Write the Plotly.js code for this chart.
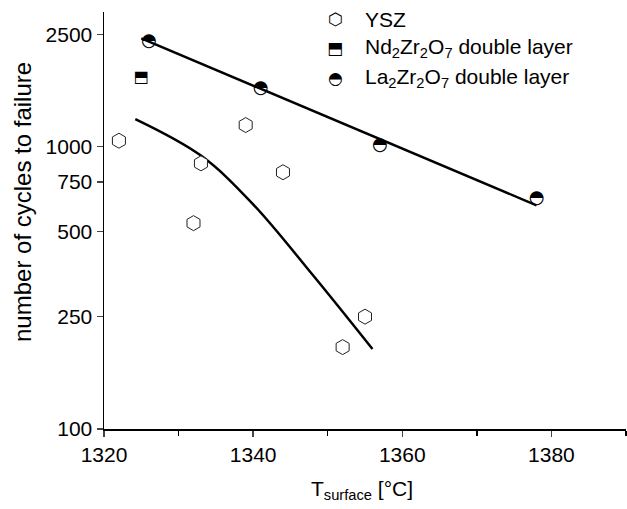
<!DOCTYPE html>
<html><head><meta charset="utf-8">
<script src="https://cdn.plot.ly/plotly-3.0.1.min.js"></script>
<style>body{margin:0;background:#fff}#chart{width:627px;height:509px}</style>
</head><body><div id="chart"></div>
<script>
// ---- data ----
const yszT = [1322, 1332, 1333, 1339, 1344, 1352, 1355];
const yszN = [1050, 536, 873, 1193, 812, 195, 250];
const ndT = [1325];
const ndN = [1750];
const laT = [1326, 1341, 1357, 1378];
const laN = [2350, 1610, 1006, 653];
const laFitT = [1325, 1378];
const laFitN = [2420, 620];
const yszFitT = [1324.2, 1333, 1340, 1348, 1356];
const yszFitN = [1253, 930, 625, 351, 192];
const xTicks = [1320, 1340, 1360, 1380];
const yTicks = [100, 250, 500, 750, 1000, 2500];
const yTickText = ['100', '250', '500', '750', '1000', '2500'];
const legendLabels = ['YSZ', 'Nd<sub>2</sub>Zr<sub>2</sub>O<sub>7</sub> double layer', 'La<sub>2</sub>Zr<sub>2</sub>O<sub>7</sub> double layer'];

const FONT = 'Liberation Sans, Arial, sans-serif';
const SYM = 'DejaVu Sans, sans-serif';

const traces = [
  {x: laFitT, y: laFitN, mode: 'lines', line: {color: '#000', width: 2.5}, hoverinfo: 'skip'},
  {x: yszFitT, y: yszFitN, mode: 'lines', line: {color: '#000', width: 2.5, shape: 'spline', smoothing: 1}, hoverinfo: 'skip'},
  {x: yszT, y: yszN, mode: 'markers', marker: {symbol: 'hexagon', size: 15, color: '#fff', line: {color: '#222', width: 1}}},
  {x: ndT, y: ndN, mode: 'text', text: ndT.map(() => '\u2B12'), textposition: 'middle center', textfont: {family: SYM, size: 16, color: '#000'}},
  {x: laT, y: laN, mode: 'text', text: laT.map(() => '\u25D3'), textposition: 'middle center', textfont: {family: SYM, size: 18, color: '#000'}}
];

const legendSyms = ['\u2B21', '\u2B12', '\u25D3'];
const legendY = [19, 48, 78];
const annotations = [];
legendLabels.forEach((lab, i) => {
  annotations.push({xref: 'paper', yref: 'paper', x: (363 - 104) / 522, y: (429 - legendY[i]) / 417,
    xanchor: 'left', yanchor: 'middle', text: lab, showarrow: false, font: {family: FONT, size: 21, color: '#000'}});
  annotations.push({xref: 'paper', yref: 'paper', x: (335 - 104) / 522, y: (429 - legendY[i]) / 417,
    xanchor: 'center', yanchor: 'middle', text: legendSyms[i], showarrow: false, font: {family: SYM, size: 17, color: '#000'}});
});
annotations.push({xref: 'paper', yref: 'paper', x: (22 - 104) / 522, y: (429 - 202) / 417, textangle: -90,
  xanchor: 'center', yanchor: 'middle', text: 'number of cycles to failure', showarrow: false, font: {family: FONT, size: 24, color: '#000'}});
annotations.push({xref: 'paper', yref: 'paper', x: (362 - 104) / 522, y: (429 - 490) / 417,
  xanchor: 'center', yanchor: 'middle', text: 'T<sub>surface</sub> [°C]', showarrow: false, font: {family: FONT, size: 21, color: '#000'}});

const layout = {
  width: 627, height: 509,
  margin: {l: 104, r: 1, t: 12, b: 80},
  paper_bgcolor: '#fff', plot_bgcolor: '#fff',
  showlegend: false,
  font: {family: FONT, size: 21, color: '#000'},
  xaxis: {range: [1320, 1390], tickvals: xTicks, ticks: 'outside', ticklen: 6, tickwidth: 1.5,
    showline: true, linecolor: '#000', linewidth: 1.5, showgrid: false, zeroline: false,
    tickfont: {family: FONT, size: 21, color: '#000'},
    minor: {tickvals: [1330, 1350, 1370, 1390], ticks: 'outside', ticklen: 5, tickwidth: 1.5, tickcolor: '#000', showgrid: false}},
  yaxis: {type: 'log', range: [2, Math.log10(3000)], tickvals: yTicks, ticktext: yTickText, ticks: 'outside', ticklen: 6, tickwidth: 1.5,
    showline: true, linecolor: '#000', linewidth: 1.5, showgrid: false, zeroline: false,
    tickfont: {family: FONT, size: 21, color: '#000'}},
  annotations: annotations
};
Plotly.newPlot('chart', traces, layout, {displayModeBar: false, staticPlot: true});
</script></body></html>
